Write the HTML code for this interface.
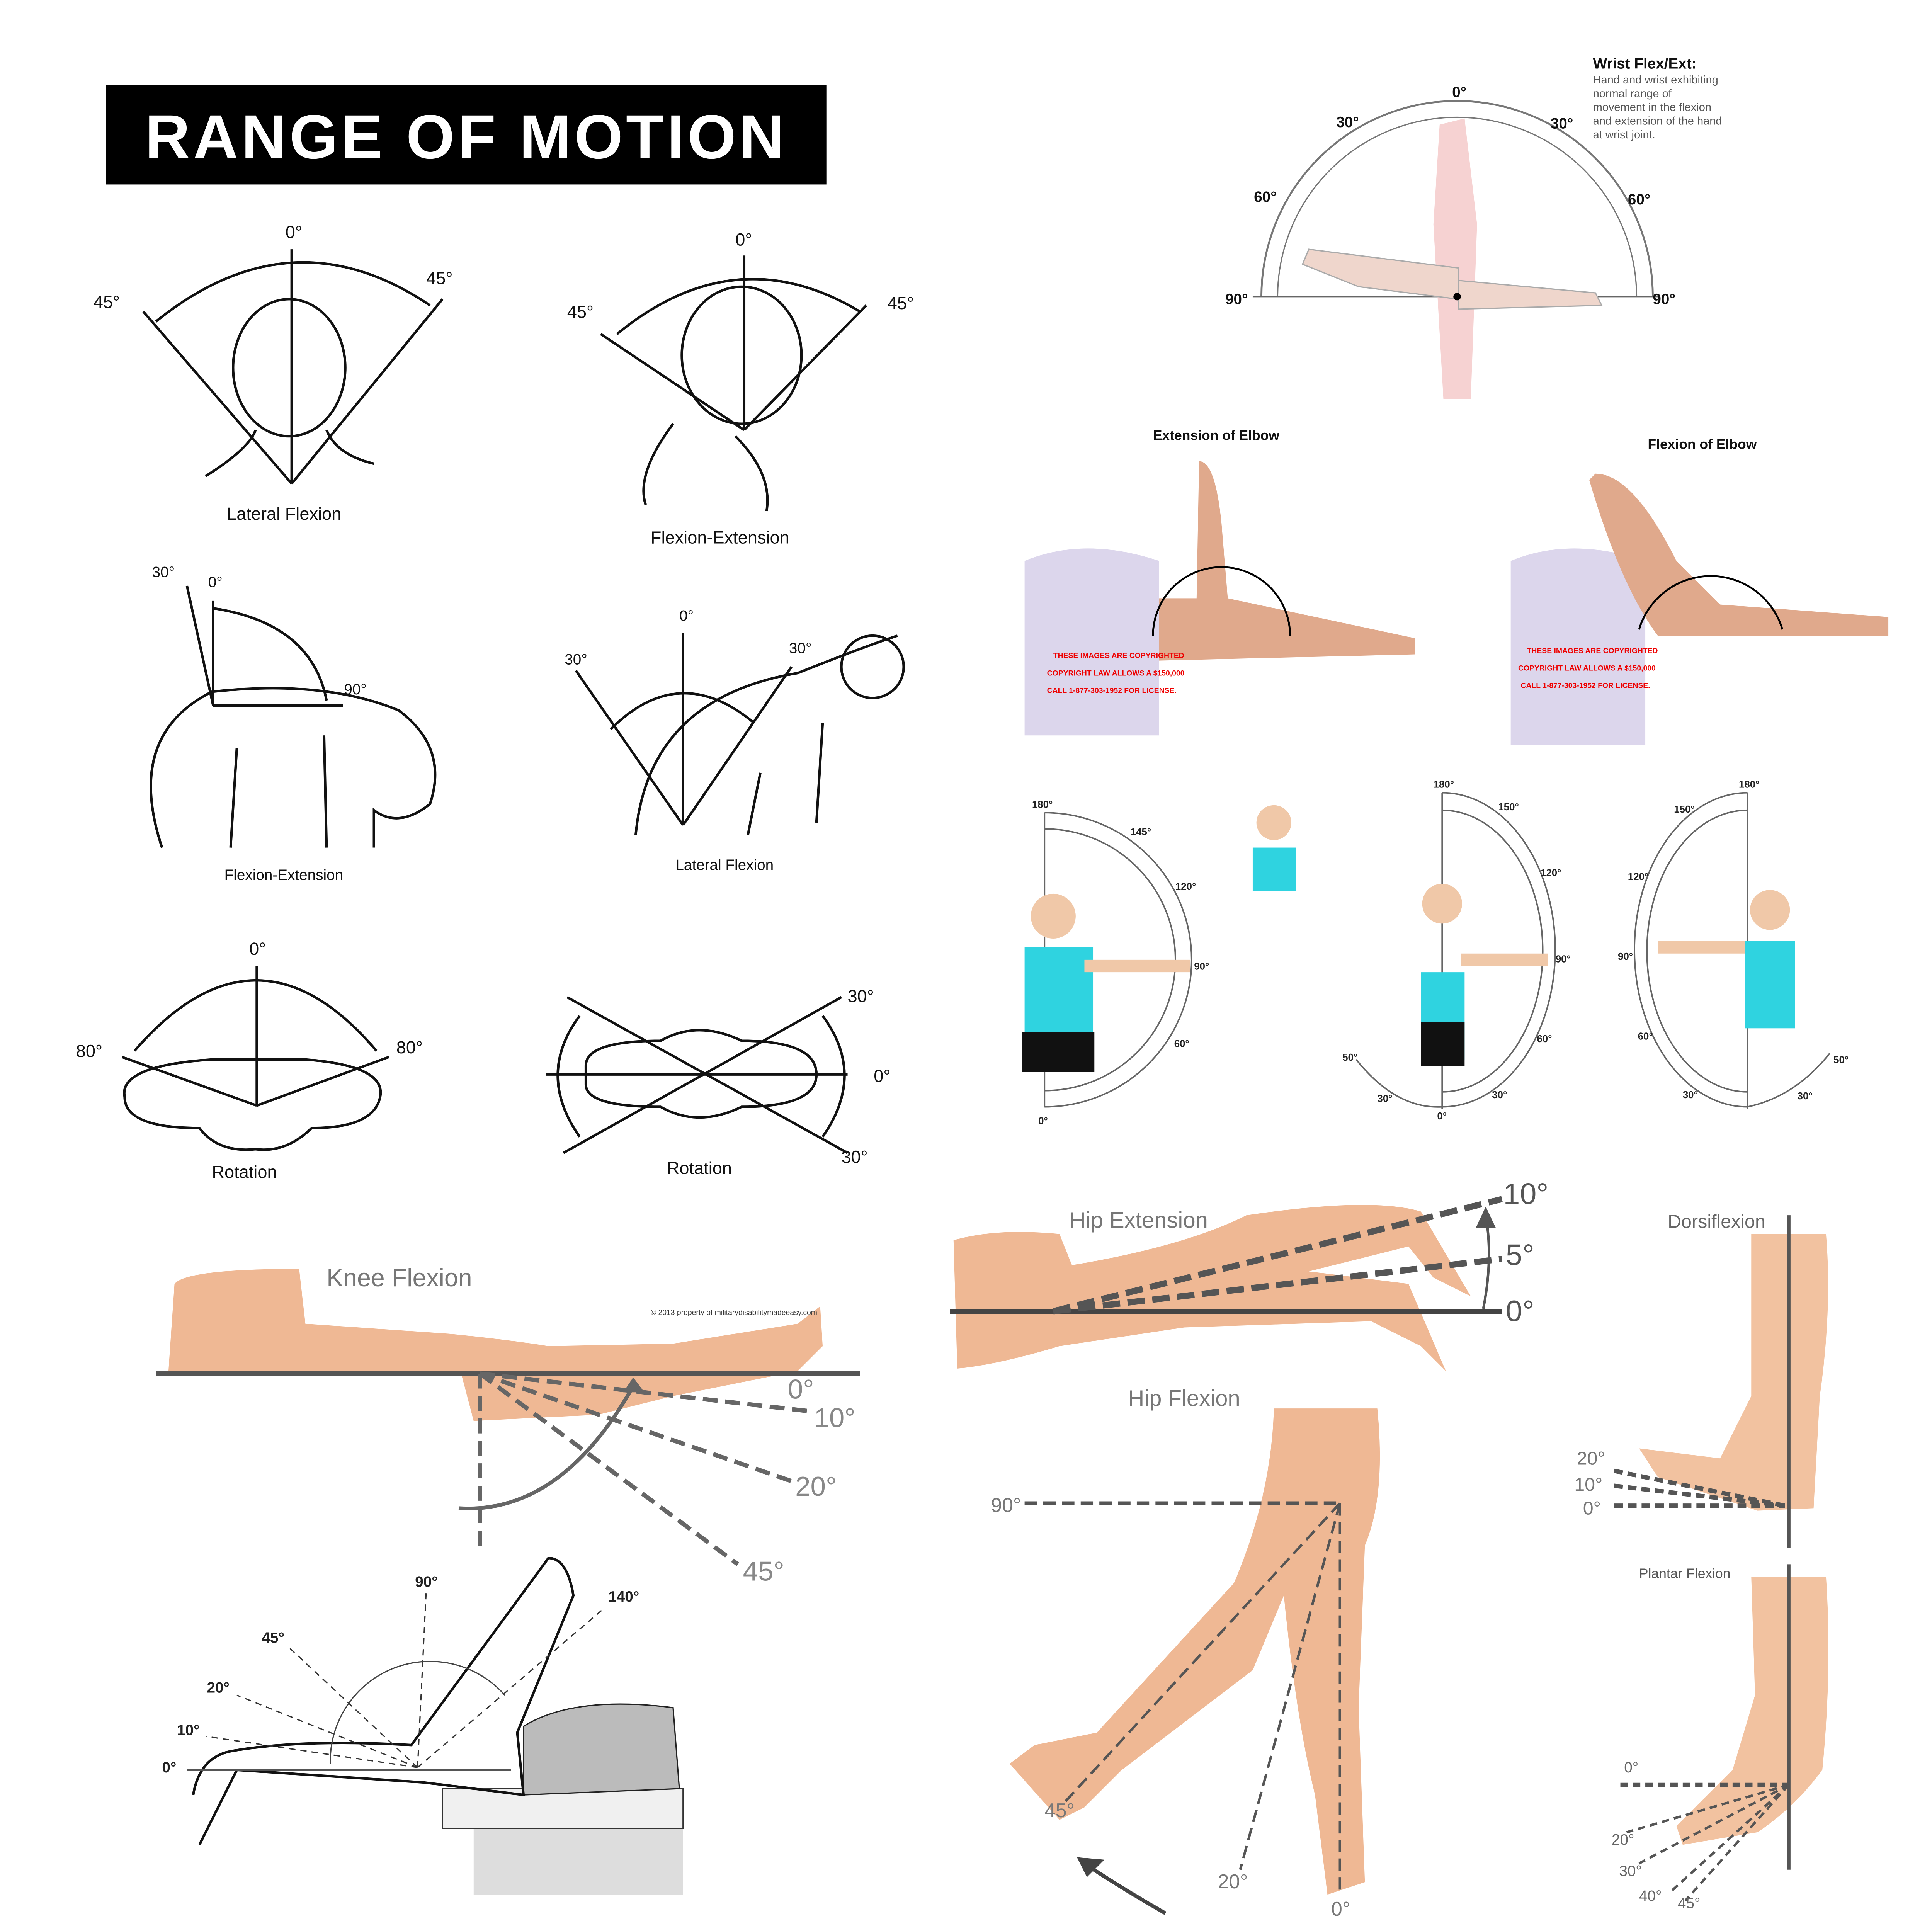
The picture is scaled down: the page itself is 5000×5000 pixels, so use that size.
<!DOCTYPE html>
<html><head><meta charset="utf-8"><style>
html,body{margin:0;padding:0;background:#fff;width:5000px;height:5000px;overflow:hidden}
svg{display:block}
text{font-family:"Liberation Sans",sans-serif}
</style></head><body>
<svg width="5000" height="5000" viewBox="0 0 1550 1550" xmlns="http://www.w3.org/2000/svg">
<rect width="1550" height="1550" fill="#fff"/>
<!-- Title -->
<rect x="85" y="68" width="578" height="80" fill="#000"/>
<text x="374" y="127" font-size="50" font-weight="bold" fill="#fff" text-anchor="middle" letter-spacing="2.5">RANGE OF MOTION</text>

<g fill="none" stroke="#111" stroke-width="2" font-size="14">
<!-- Lateral flexion head -->
<line x1="234" y1="200" x2="234" y2="388"/>
<line x1="234" y1="388" x2="115" y2="250"/>
<line x1="234" y1="388" x2="355" y2="240"/>
<path d="M125 258 Q234 170 345 245"/>
<ellipse cx="232" cy="295" rx="45" ry="55"/>
<path d="M165 382 Q200 360 205 345 M262 345 Q270 365 300 372"/>
<!-- flexion-extension head 1 -->
<line x1="597" y1="205" x2="597" y2="345"/>
<line x1="597" y1="345" x2="482" y2="268"/>
<line x1="597" y1="345" x2="695" y2="245"/>
<path d="M495 268 Q590 190 690 250"/>
<ellipse cx="595" cy="285" rx="48" ry="55"/>
<path d="M540 340 Q510 380 518 405 M590 350 Q620 380 615 410"/>
<!-- Flexion-extension 2 -->
<line x1="171" y1="482" x2="171" y2="566"/>
<line x1="171" y1="566" x2="275" y2="566"/>
<line x1="171" y1="566" x2="150" y2="470"/>
<path d="M171 488 Q250 500 262 562"/>
<path d="M130 680 Q100 590 170 555 Q260 545 320 570 Q360 600 345 645 Q320 665 300 650 L300 680"/>
<path d="M190 600 L185 680 M260 590 L262 680"/>
<!-- Lateral flexion 2 -->
<line x1="548" y1="508" x2="548" y2="662"/>
<line x1="548" y1="662" x2="462" y2="538"/>
<line x1="548" y1="662" x2="635" y2="535"/>
<path d="M490 585 Q545 530 605 580"/>
<path d="M510 670 Q520 560 640 540 Q690 520 720 510"/>
<circle cx="700" cy="535" r="25"/>
<path d="M600 670 L610 620 M655 660 L660 580"/>
<!-- Rotation 1 -->
<line x1="206" y1="775" x2="206" y2="887"/>
<line x1="206" y1="887" x2="98" y2="848"/>
<line x1="206" y1="887" x2="312" y2="848"/>
<path d="M108 843 Q206 730 302 843"/>
<path d="M100 880 Q95 855 170 850 L245 850 Q310 855 305 880 Q300 905 250 905 Q230 925 205 922 Q175 925 160 905 Q100 905 100 880Z"/>
<!-- Rotation 2 -->
<line x1="438" y1="862" x2="680" y2="862"/>
<line x1="455" y1="800" x2="680" y2="925"/>
<line x1="452" y1="925" x2="675" y2="800"/>
<path d="M465 815 Q430 862 465 912 M660 815 Q695 862 660 912"/>
<path d="M470 855 Q470 835 530 835 Q560 818 595 835 Q655 835 655 862 Q655 888 595 888 Q560 905 530 888 Q470 888 470 870Z"/>
<!-- wrist arc -->
<path d="M1012 238 A157 157 0 0 1 1326 238" stroke="#777" stroke-width="1.5"/>
<path d="M1025 238 A144 144 0 0 1 1313 238" stroke="#777" stroke-width="1"/>
<line x1="1005" y1="238" x2="1330" y2="238" stroke="#666" stroke-width="1"/>
</g>
<g fill="#f4c7c7" opacity="0.8"><path d="M1155 100 L1175 95 L1185 180 L1180 320 L1158 320 L1150 180Z"/></g>
<g fill="#efd6cc" stroke="#aaa"><path d="M1050 200 L1170 215 L1170 240 L1090 230 L1045 212Z"/><path d="M1170 225 L1280 235 L1285 245 L1170 248Z"/></g>
<circle cx="1169" cy="238" r="3" fill="#000"/>

<g font-size="14" fill="#111">
<text x="229" y="191">0°</text><text x="75" y="247">45°</text><text x="342" y="228">45°</text>
<text x="182" y="417">Lateral Flexion</text>
<text x="590" y="197">0°</text><text x="455" y="255">45°</text><text x="712" y="248">45°</text>
<text x="522" y="436">Flexion-Extension</text>
<text x="122" y="463" font-size="12">30°</text><text x="167" y="471" font-size="12">0°</text><text x="276" y="557" font-size="12">90°</text>
<text x="180" y="706" font-size="12">Flexion-Extension</text>
<text x="545" y="498" font-size="12">0°</text><text x="453" y="533" font-size="12">30°</text><text x="633" y="524" font-size="12">30°</text>
<text x="542" y="698" font-size="12">Lateral Flexion</text>
<text x="200" y="766">0°</text><text x="61" y="848">80°</text><text x="318" y="845">80°</text>
<text x="170" y="945">Rotation</text>
<text x="680" y="804">30°</text><text x="701" y="868">0°</text><text x="675" y="933">30°</text>
<text x="535" y="942">Rotation</text>
<!-- wrist -->
<text x="1278" y="55" font-size="12" font-weight="bold">Wrist Flex/Ext:</text>
<text x="1278" y="67" font-size="9" fill="#555">Hand and wrist exhibiting</text>
<text x="1278" y="78" font-size="9" fill="#555">normal range of</text>
<text x="1278" y="89" font-size="9" fill="#555">movement in the flexion</text>
<text x="1278" y="100" font-size="9" fill="#555">and extension of the hand</text>
<text x="1278" y="111" font-size="9" fill="#555">at wrist joint.</text>
<text x="1165" y="78" font-size="12" font-weight="bold">0°</text>
<text x="1072" y="102" font-size="12" font-weight="bold">30°</text><text x="1244" y="103" font-size="12" font-weight="bold">30°</text>
<text x="1006" y="162" font-size="12" font-weight="bold">60°</text><text x="1306" y="164" font-size="12" font-weight="bold">60°</text>
<text x="983" y="244" font-size="12" font-weight="bold">90°</text><text x="1326" y="244" font-size="12" font-weight="bold">90°</text>
<text x="925" y="353" font-size="11" font-weight="bold">Extension of Elbow</text>
<text x="1322" y="360" font-size="11" font-weight="bold">Flexion of Elbow</text>
</g>
<!-- elbow images -->
<g>
<path d="M822 450 Q870 430 930 450 L930 590 L822 590Z" fill="#dcd6ec"/>
<path d="M930 480 L960 480 L962 370 Q975 370 980 420 L985 480 L1135 512 L1135 525 L930 530Z" fill="#e0a98c"/>
<path d="M925 510 A55 55 0 0 1 1035 510" fill="none" stroke="#000" stroke-width="1.5"/>
<path d="M1212 450 Q1260 430 1320 450 L1320 598 L1212 598Z" fill="#dcd6ec"/>
<path d="M1280 380 Q1310 380 1345 450 L1380 485 L1515 495 L1515 510 L1330 510 Q1300 470 1275 385Z" fill="#e0a98c"/>
<path d="M1315 505 A60 60 0 0 1 1430 505" fill="none" stroke="#000" stroke-width="1.5"/>
<g fill="#e00" font-size="6" font-weight="bold"><text x="845" y="528">THESE IMAGES ARE COPYRIGHTED</text><text x="840" y="542">COPYRIGHT LAW ALLOWS A $150,000</text><text x="840" y="556">CALL 1-877-303-1952 FOR LICENSE.</text>
<text x="1225" y="524">THESE IMAGES ARE COPYRIGHTED</text><text x="1218" y="538">COPYRIGHT LAW ALLOWS A $150,000</text><text x="1220" y="552">CALL 1-877-303-1952 FOR LICENSE.</text></g>
</g>
<!-- shoulder -->
<g fill="none" stroke="#666" stroke-width="1.2">
<path d="M838 652 A118 118 0 0 1 838 888"/><path d="M838 665 A105 105 0 0 1 838 875"/><line x1="838" y1="652" x2="838" y2="888"/>
<path d="M1157 636 A90 125 0 0 1 1157 888"/><path d="M1157 650 A80 112 0 0 1 1157 876"/><line x1="1157" y1="636" x2="1157" y2="890"/>
<path d="M1088 850 Q1120 890 1157 888"/>
<path d="M1402 636 A90 125 0 0 0 1402 888"/><path d="M1402 650 A80 112 0 0 0 1402 876"/><line x1="1402" y1="636" x2="1402" y2="890"/>
<path d="M1402 888 Q1440 880 1468 845"/>
</g>
<g fill="#2fd3e0"><rect x="822" y="760" width="55" height="70"/><rect x="1140" y="780" width="35" height="70"/><rect x="1400" y="755" width="40" height="70"/><rect x="1005" y="680" width="35" height="35"/></g>
<g fill="#111"><rect x="820" y="828" width="58" height="32"/><rect x="1140" y="820" width="35" height="35"/></g>
<g fill="#f0c8a8"><circle cx="845" cy="735" r="18"/><circle cx="1157" cy="725" r="16"/><circle cx="1420" cy="730" r="16"/><circle cx="1022" cy="660" r="14"/>
<rect x="870" y="770" width="85" height="10"/><rect x="1172" y="765" width="70" height="10"/><rect x="1330" y="755" width="70" height="10"/></g>
<g font-size="8" font-weight="bold" fill="#222">
<text x="828" y="648">180°</text><text x="907" y="670">145°</text><text x="943" y="714">120°</text><text x="958" y="778">90°</text><text x="942" y="840">60°</text><text x="833" y="902">0°</text>
<text x="1150" y="632">180°</text><text x="1202" y="650">150°</text><text x="1236" y="703">120°</text><text x="1248" y="772">90°</text><text x="1233" y="836">60°</text><text x="1197" y="881">30°</text><text x="1105" y="884">30°</text><text x="1077" y="851">50°</text><text x="1153" y="898">0°</text>
<text x="1395" y="632">180°</text><text x="1343" y="652">150°</text><text x="1306" y="706">120°</text><text x="1298" y="770">90°</text><text x="1314" y="834">60°</text><text x="1350" y="881">30°</text><text x="1442" y="882">30°</text><text x="1471" y="853">50°</text>
</g>
<!-- Knee flexion -->
<path d="M135 1102 L140 1030 Q150 1018 240 1018 L245 1062 L360 1070 Q410 1075 440 1080 L540 1078 L640 1062 L658 1048 L660 1080 L640 1100 L540 1120 L480 1135 L380 1140 L370 1102Z" fill="#efb894"/>
<text x="262" y="1032" font-size="20" fill="#777">Knee Flexion</text>
<text x="522" y="1055" font-size="6" fill="#333">© 2013 property of militarydisabilitymadeeasy.com</text>
<line x1="125" y1="1102" x2="690" y2="1102" stroke="#555" stroke-width="4"/>
<g stroke="#666" stroke-width="3.5" fill="none" stroke-dasharray="12,6">
<line x1="385" y1="1102" x2="648" y2="1132"/><line x1="385" y1="1102" x2="640" y2="1190"/><line x1="385" y1="1102" x2="592" y2="1255"/><line x1="385" y1="1102" x2="385" y2="1240"/>
</g>
<path d="M368 1210 Q450 1215 508 1112" fill="none" stroke="#666" stroke-width="3"/>
<polygon points="508,1105 500,1117 517,1117" fill="#666"/>
<g fill="#888" font-size="22"><text x="632" y="1122">0°</text><text x="653" y="1145">10°</text><text x="638" y="1200">20°</text><text x="596" y="1268">45°</text></g>
<!-- knee flex 2 -->
<rect x="380" y="1465" width="168" height="55" fill="#ddd"/>
<rect x="355" y="1435" width="193" height="32" fill="#f0f0f0" stroke="#333"/>
<path d="M420 1385 Q460 1360 540 1370 L545 1435 L420 1440Z" fill="#bbb" stroke="#222"/>
<path d="M155 1440 Q160 1410 185 1405 Q240 1395 330 1400 L440 1250 Q455 1250 460 1280 L415 1390 L420 1440 L340 1430 L190 1420 Q170 1460 160 1480" fill="none" stroke="#111" stroke-width="2"/>
<g stroke="#333" stroke-dasharray="5,4" fill="none"><line x1="335" y1="1418" x2="342" y2="1275"/><line x1="335" y1="1418" x2="230" y2="1320"/><line x1="335" y1="1418" x2="190" y2="1360"/><line x1="335" y1="1418" x2="165" y2="1393"/><line x1="335" y1="1418" x2="485" y2="1290"/></g>
<line x1="150" y1="1420" x2="410" y2="1420" stroke="#555" stroke-width="2"/>
<path d="M265 1415 A80 80 0 0 1 405 1360" fill="none" stroke="#444"/>
<g font-size="12" font-weight="bold" fill="#222"><text x="333" y="1273">90°</text><text x="488" y="1285">140°</text><text x="210" y="1318">45°</text><text x="166" y="1358">20°</text><text x="142" y="1392">10°</text><text x="130" y="1422">0°</text></g>
<!-- Hip extension -->
<path d="M765 995 Q800 985 850 990 L860 1015 Q950 1000 1000 975 Q1100 960 1140 972 L1180 1040 L1150 1025 L1130 1000 L1050 1020 L1130 1030 L1160 1100 L1140 1080 L1100 1060 L950 1065 L850 1080 Q800 1095 768 1098Z" fill="#efb894"/>
<line x1="762" y1="1052" x2="1205" y2="1052" stroke="#444" stroke-width="4"/>
<g stroke="#555" stroke-width="5" stroke-dasharray="14,6"><line x1="845" y1="1052" x2="1205" y2="962"/><line x1="845" y1="1052" x2="1205" y2="1010"/></g>
<path d="M1190 1050 Q1198 1010 1192 975" fill="none" stroke="#555" stroke-width="2"/><polygon points="1192,968 1184,985 1200,985" fill="#555"/>
<text x="858" y="985" font-size="18" fill="#777">Hip Extension</text>
<g font-size="24" fill="#555"><text x="1206" y="966">10°</text><text x="1208" y="1015">5°</text><text x="1208" y="1060">0°</text></g>
<!-- Hip flexion -->
<path d="M1022 1130 L1105 1130 Q1112 1200 1095 1240 L1090 1370 L1095 1510 L1065 1520 L1055 1440 Q1040 1380 1030 1280 L1005 1340 L900 1420 L870 1450 L850 1460 L810 1415 L830 1400 L880 1390 L990 1270 Q1020 1200 1022 1130Z" fill="#efb894"/>
<text x="905" y="1128" font-size="18" fill="#777">Hip Flexion</text>
<g stroke="#555" fill="none" stroke-dasharray="10,5"><line x1="822" y1="1206" x2="1075" y2="1206" stroke-width="3"/><line x1="1075" y1="1206" x2="1075" y2="1520" stroke-width="2"/><line x1="1075" y1="1206" x2="995" y2="1500" stroke-width="2"/><line x1="1075" y1="1206" x2="855" y2="1445" stroke-width="2"/></g>
<path d="M935 1535 Q900 1515 870 1495" fill="none" stroke="#444" stroke-width="3"/><polygon points="864,1490 886,1492 872,1506" fill="#444"/>
<g font-size="16" fill="#777"><text x="795" y="1213">90°</text><text x="838" y="1458">45°</text><text x="977" y="1515">20°</text><text x="1068" y="1537">0°</text></g>
<!-- Dorsiflexion -->
<path d="M1405 990 L1465 990 Q1470 1050 1460 1120 L1455 1210 L1410 1212 L1330 1185 L1315 1162 L1380 1170 L1405 1120Z" fill="#f2c2a0"/>
<line x1="1435" y1="975" x2="1435" y2="1242" stroke="#555" stroke-width="3"/>
<g stroke="#555" stroke-width="3.5" stroke-dasharray="7,4"><line x1="1295" y1="1208" x2="1432" y2="1208"/><line x1="1295" y1="1192" x2="1432" y2="1208"/><line x1="1295" y1="1180" x2="1432" y2="1208"/></g>
<text x="1338" y="985" font-size="15" fill="#666">Dorsiflexion</text>
<g font-size="15" fill="#777"><text x="1265" y="1175">20°</text><text x="1263" y="1196">10°</text><text x="1270" y="1215">0°</text></g>
<!-- Plantar flexion -->
<path d="M1405 1265 L1465 1265 Q1470 1340 1462 1420 Q1440 1450 1410 1470 L1350 1480 L1345 1465 L1390 1420 L1408 1360Z" fill="#f2c2a0"/>
<line x1="1435" y1="1255" x2="1435" y2="1500" stroke="#555" stroke-width="3"/>
<g stroke="#555" stroke-width="2" stroke-dasharray="6,4" fill="none"><line x1="1300" y1="1432" x2="1435" y2="1432" stroke-width="3.5"/><line x1="1435" y1="1432" x2="1305" y2="1470"/><line x1="1435" y1="1432" x2="1315" y2="1495"/><line x1="1435" y1="1432" x2="1340" y2="1518"/><line x1="1435" y1="1432" x2="1352" y2="1525"/></g>
<text x="1315" y="1266" font-size="11" fill="#555">Plantar Flexion</text>
<g font-size="12" fill="#666"><text x="1303" y="1422">0°</text><text x="1293" y="1480">20°</text><text x="1299" y="1505">30°</text><text x="1315" y="1525">40°</text><text x="1346" y="1531">45°</text></g>
</svg>
</body></html>
